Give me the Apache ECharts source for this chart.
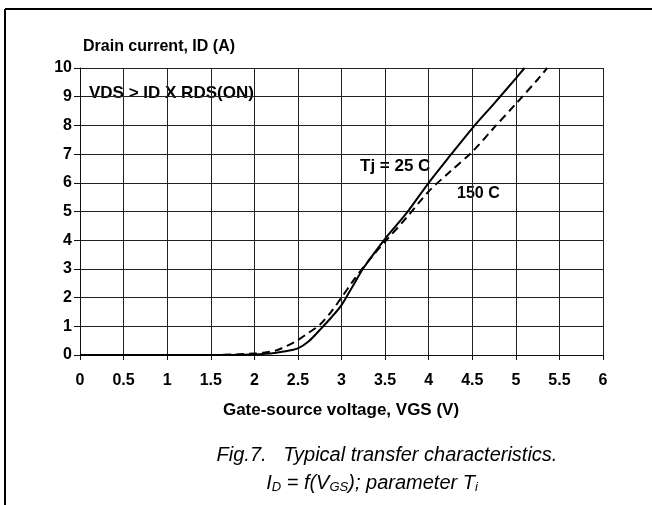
<!DOCTYPE html>
<html>
<head>
<meta charset="utf-8">
<script src="https://cdn.jsdelivr.net/npm/echarts@6/dist/echarts.min.js"></script>
<style>html,body{margin:0;padding:0;background:#fff}#c{width:652px;height:505px}</style>
</head>
<body>
<div id="c"></div>
<script>
// Data
var vgs25 = [0, 0.5, 1, 1.5, 2, 2.125, 2.25, 2.375, 2.5, 2.625, 2.75, 2.875, 3, 3.125, 3.25, 3.375, 3.5, 3.75, 4, 4.25, 4.5, 4.75, 5, 5.1];
var id25  = [0, 0, 0, 0, 0.02, 0.04, 0.08, 0.14, 0.23, 0.48, 0.87, 1.28, 1.74, 2.38, 3.02, 3.55, 4.05, 4.96, 6.0, 6.96, 7.9, 8.76, 9.64, 10];
var vgs150 = [0, 0.5, 1, 1.5, 2, 2.125, 2.25, 2.375, 2.5, 2.625, 2.75, 2.875, 3, 3.125, 3.25, 3.375, 3.5, 3.75, 4, 4.25, 4.5, 4.75, 5, 5.25, 5.36];
var id150  = [0, 0, 0, 0, 0.05, 0.09, 0.16, 0.32, 0.52, 0.78, 1.05, 1.48, 2.0, 2.55, 3.05, 3.52, 3.95, 4.8, 5.7, 6.4, 7.08, 7.92, 8.75, 9.6, 10];
var xTicks = [0, 0.5, 1, 1.5, 2, 2.5, 3, 3.5, 4, 4.5, 5, 5.5, 6];
var yTicks = [0, 1, 2, 3, 4, 5, 6, 7, 8, 9, 10];

function pairs(xs, ys) { return xs.map(function (x, i) { return [x, ys[i]]; }); }

var chart = echarts.init(document.getElementById('c'), null, {renderer: 'canvas'});
var FONT = 'Liberation Sans, Arial, sans-serif';
chart.setOption({
  backgroundColor: '#fff',
  animation: false,
  grid: {left: 80, right: 49, top: 68, bottom: 150, containLabel: false},
  xAxis: {
    type: 'value', min: xTicks[0], max: xTicks[xTicks.length - 1], interval: 0.5,
    axisLine: {show: true, onZero: false, lineStyle: {color: '#111', width: 1}},
    axisTick: {show: true, length: 5, inside: false, lineStyle: {color: '#111'}},
    axisLabel: {color: '#000', fontFamily: FONT, fontWeight: 'bold', fontSize: 16, margin: 18},
    splitLine: {show: true, lineStyle: {color: '#222', width: 1}}
  },
  yAxis: {
    type: 'value', min: yTicks[0], max: yTicks[yTicks.length - 1], interval: 1,
    axisLine: {show: true, lineStyle: {color: '#111', width: 1}},
    axisTick: {show: true, length: 6, lineStyle: {color: '#111'}},
    axisLabel: {color: '#000', fontFamily: FONT, fontWeight: 'bold', fontSize: 16, margin: 8},
    splitLine: {show: true, lineStyle: {color: '#222', width: 1}}
  },
  series: [
    {type: 'line', name: 'Tj = 25 C', data: pairs(vgs25, id25), smooth: 0.3, symbol: 'none',
     lineStyle: {color: '#000', width: 2}},
    {type: 'line', name: '150 C', data: pairs(vgs150, id150), smooth: 0.3, symbol: 'none',
     lineStyle: {color: '#000', width: 2, type: [8, 5]}}
  ],
  graphic: [
    {type: 'line', shape: {x1: 5, y1: 9, x2: 652, y2: 9}, style: {stroke: '#000', lineWidth: 2}},
    {type: 'line', shape: {x1: 5, y1: 9, x2: 5, y2: 505}, style: {stroke: '#000', lineWidth: 2}},
    {type: 'text', x: 83, y: 47, style: {text: 'Drain current, ID (A)', fill: '#000', font: 'bold 16px ' + FONT, verticalAlign: 'middle'}},
    {type: 'text', x: 89, y: 93, style: {text: 'VDS > ID X RDS(ON)', fill: '#000', font: 'bold 17px ' + FONT, verticalAlign: 'middle'}},
    {type: 'text', x: 360, y: 166, style: {text: 'Tj = 25 C', fill: '#000', font: 'bold 17px ' + FONT, verticalAlign: 'middle'}},
    {type: 'text', x: 457, y: 194, style: {text: '150 C', fill: '#000', font: 'bold 16px ' + FONT, verticalAlign: 'middle'}},
    {type: 'text', x: 341, y: 410, style: {text: 'Gate-source voltage, VGS (V)', fill: '#000', font: 'bold 17px ' + FONT, align: 'center', verticalAlign: 'middle'}},
    {type: 'text', x: 387, y: 455, style: {text: 'Fig.7.   Typical transfer characteristics.', fill: '#000', font: 'italic 20px ' + FONT, align: 'center', verticalAlign: 'middle'}},
    {type: 'text', x: 372, y: 483, style: {
      text: '{n|I}{s|D}{n| = f(V}{s|GS}{n|); parameter T}{s|i}',
      align: 'center', verticalAlign: 'middle',
      rich: {
        n: {font: 'italic 20px ' + FONT, fill: '#000'},
        s: {font: 'italic 13px ' + FONT, fill: '#000', verticalAlign: 'bottom', padding: [8, 0, 0, 0]}
      }
    }}
  ]
});
</script>
</body>
</html>
